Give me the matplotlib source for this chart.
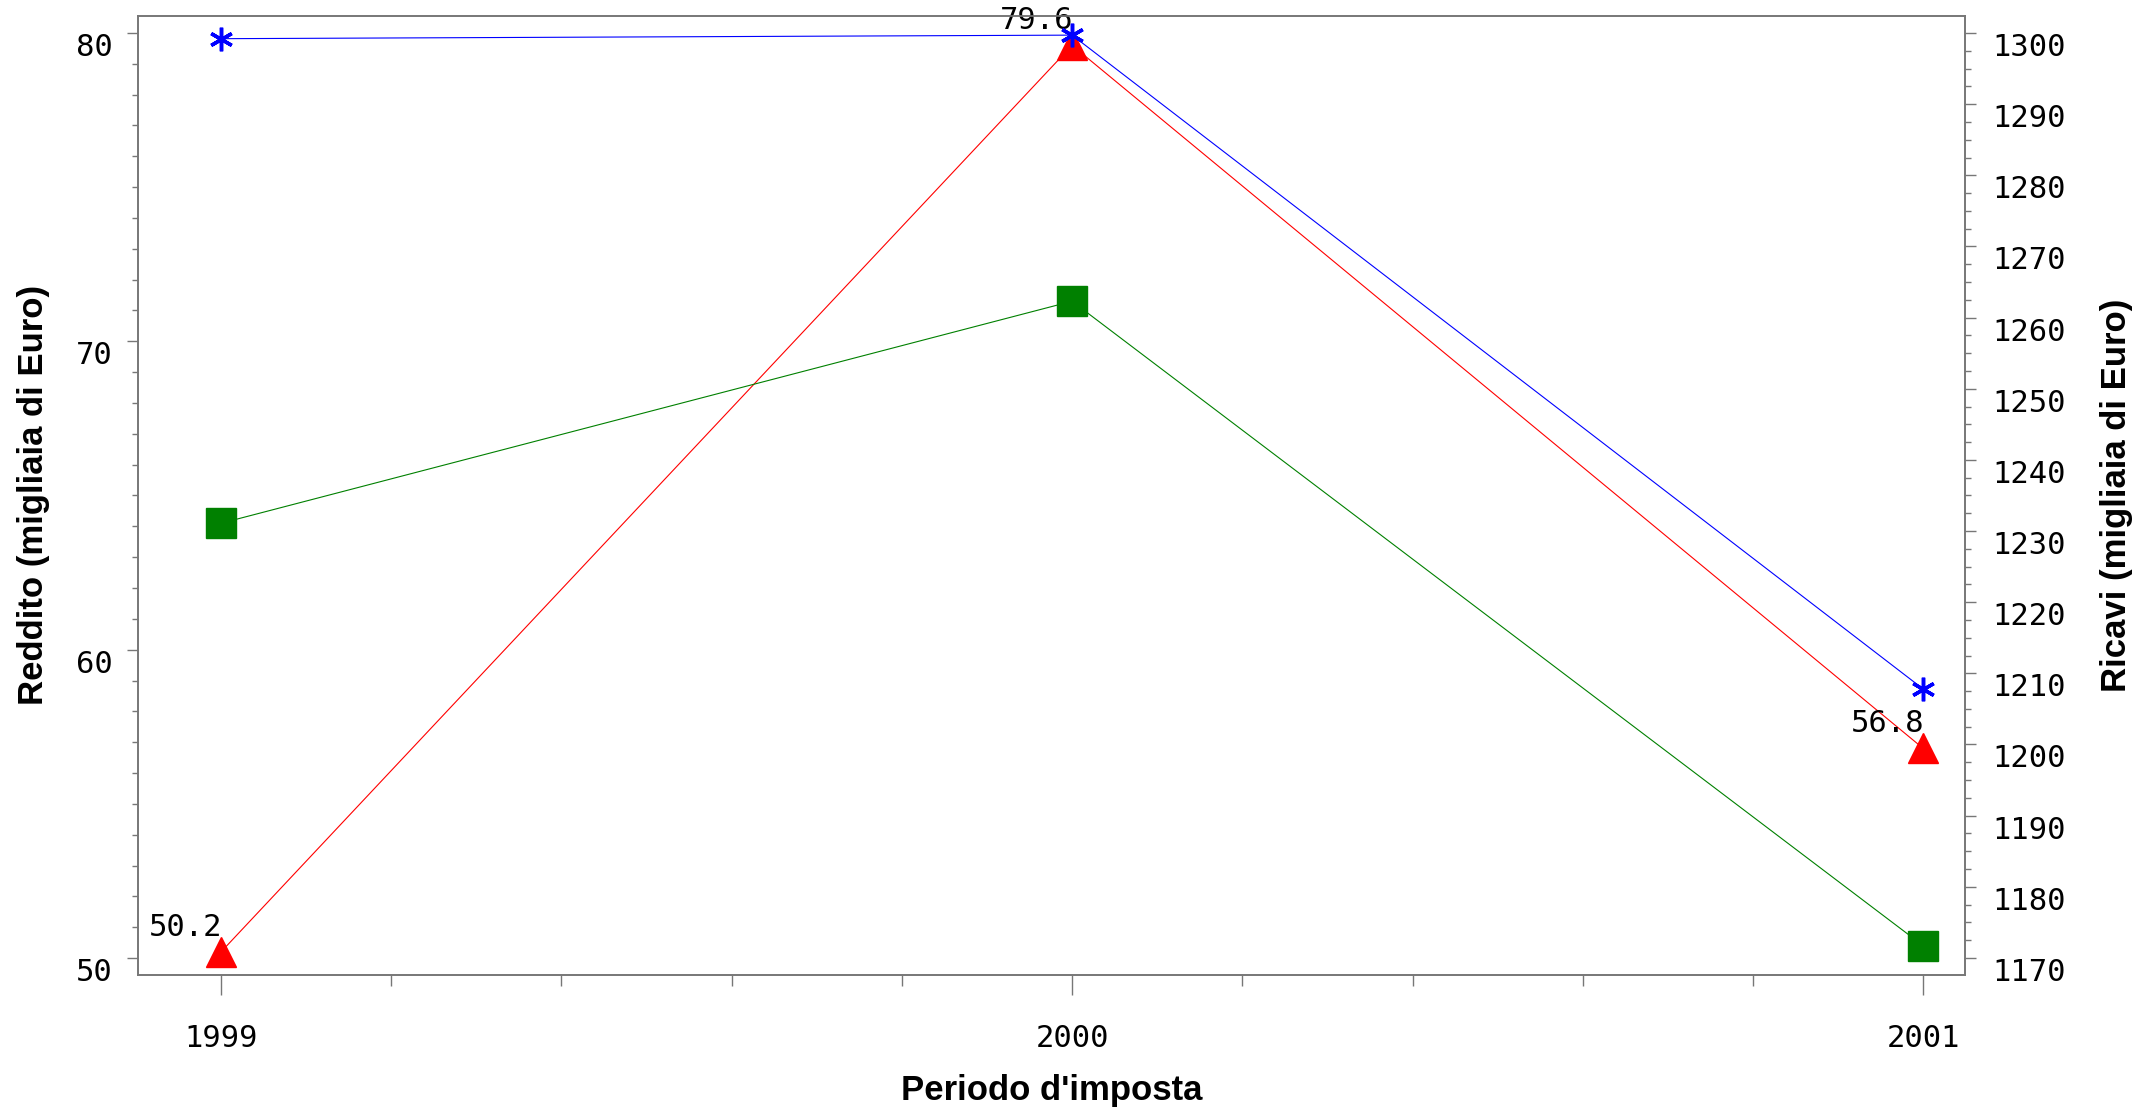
import matplotlib
matplotlib.use('Agg')
import matplotlib.pyplot as plt
from matplotlib.ticker import MultipleLocator, FixedLocator

years = [1999, 2000, 2001]
reddito = [50.2, 79.6, 56.8]          # red triangles, left axis
reddito_2 = [64.1, 71.3, 50.4]        # green squares, left axis
ricavi = [1299.2, 1299.7, 1207.8]     # blue stars, right axis
reddito_labels = ['50.2', '79.6', '56.8']

left_ticks = [50, 60, 70, 80]
right_ticks = list(range(1170, 1301, 10))

plt.rcParams['ytick.alignment'] = 'top'
mono = 'DejaVu Sans Mono'
bold = 'Liberation Sans'
grey = '#777777'
fs = 22

fig = plt.figure(figsize=(21.38, 11.14), dpi=100)
ax = fig.add_axes([0.0644, 0.1248, 0.919 - 0.0644, 0.9859 - 0.1248])
ax2 = ax.twinx()

ax.plot(years, reddito, '-', color='red', lw=0.8, marker='^', ms=22, mec='red', mfc='red')
ax.plot(years, reddito_2, '-', color='green', lw=0.8, marker='s', ms=21, mec='green', mfc='green')
ax2.plot(years, ricavi, '-', color='blue', lw=0.8, marker=(6, 2, 0), ms=17, mew=2.5, mec='blue')

for x, y, t in zip(years, reddito, reddito_labels):
    ax.annotate(t, (x, y), xytext=(1, 11.5), textcoords='offset points',
                ha='right', va='baseline', family=mono, fontsize=fs, color='black')

ax.set_xlim(1998.902, 2001.049)
ax.set_ylim(49.45, 80.56)
ax2.set_ylim(1167.6, 1302.43)

ax.xaxis.set_major_locator(FixedLocator(years))
ax.xaxis.set_minor_locator(MultipleLocator(0.2))
ax.yaxis.set_major_locator(FixedLocator(left_ticks))
ax.yaxis.set_minor_locator(MultipleLocator(1))
ax2.yaxis.set_major_locator(FixedLocator(right_ticks))
ax2.yaxis.set_minor_locator(MultipleLocator(2.5))

ax.set_xticklabels([str(y) for y in years], family=mono, fontsize=fs)
ax.set_yticklabels([str(v) for v in left_ticks], family=mono, fontsize=fs)
ax2.set_yticklabels([str(v) for v in right_ticks], family=mono, fontsize=fs)

ax.tick_params(axis='x', which='major', length=14.4, width=1, color=grey, pad=21, direction='out')
ax.tick_params(axis='x', which='minor', length=8, width=1, color=grey, direction='out')
ax.tick_params(axis='y', which='major', length=8, width=1, color=grey, pad=10)
ax.tick_params(axis='y', which='minor', length=4, width=1, color=grey)
ax2.tick_params(axis='y', which='major', length=8, width=1, color=grey, pad=12)
ax2.tick_params(axis='y', which='minor', length=4, width=1, color=grey)

for a in (ax, ax2):
    for s in a.spines.values():
        s.set_color(grey)
        s.set_linewidth(1.2)

ax.set_xlabel("Periodo d'imposta", family=bold, fontweight='bold', fontsize=25)
ax.set_ylabel('Reddito (migliaia di Euro)', family=bold, fontweight='bold', fontsize=25)
ax2.set_ylabel('Ricavi (migliaia di Euro)', family=bold, fontweight='bold', fontsize=25, rotation=90)
ax.xaxis.set_label_coords(0.5, -0.12)
ax.xaxis.label.set_va('center')
ax.yaxis.set_label_coords(-0.057, 0.5)
ax.yaxis.label.set_va('center')
ax2.yaxis.set_label_coords(1.083, 0.5)
ax2.yaxis.label.set_va('center')

fig.savefig('out.png', dpi=100)
